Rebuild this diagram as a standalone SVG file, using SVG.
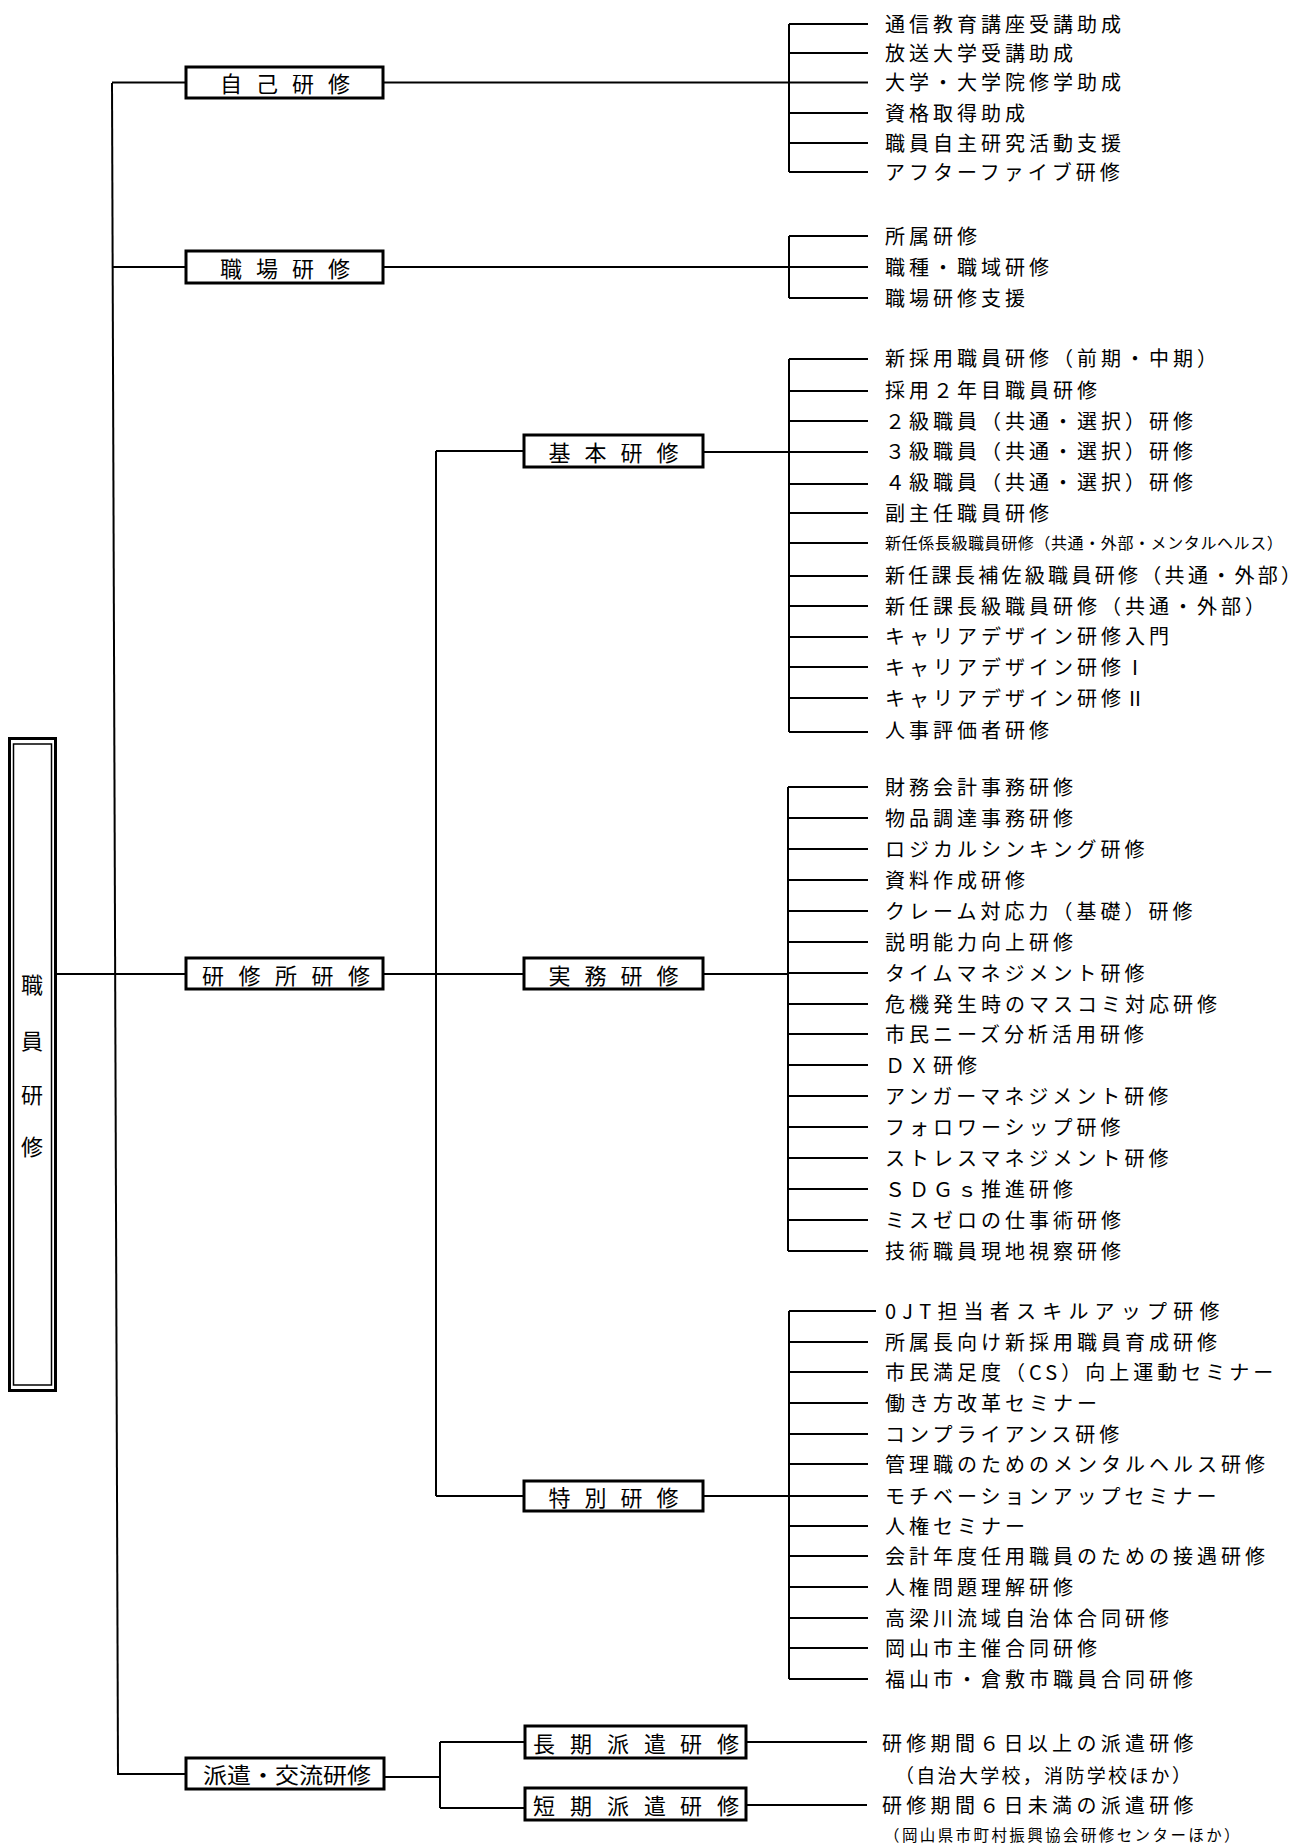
<svg xmlns="http://www.w3.org/2000/svg" width="1308" height="1845" viewBox="0 0 1308 1845">
<style>
text{font-family:"Noto Sans CJK JP","Noto Sans CJK SC",sans-serif;fill:#000;dominant-baseline:central}
.t{font-size:20px;letter-spacing:4px}
.s{font-size:16px;letter-spacing:0.6px}
.b{font-size:22px}
.box{fill:#fff;stroke:#000;stroke-width:3}
.ln{stroke:#000;stroke-width:2;fill:none}
</style>
<rect width="1308" height="1845" fill="#fff"/>
<g id="connectors" class="ln">
<line x1="112" y1="83" x2="118" y2="1775"/>
<line x1="112" y1="82.5" x2="186" y2="82.5"/>
<line x1="113" y1="267" x2="186" y2="267"/>
<line x1="56" y1="974" x2="186" y2="974"/>
<line x1="118" y1="1774" x2="186" y2="1774"/>
<line x1="383" y1="82.5" x2="789" y2="82.5"/>
<line x1="789" y1="24" x2="789" y2="172"/>
<line x1="789" y1="24" x2="868" y2="24"/>
<line x1="789" y1="53" x2="868" y2="53"/>
<line x1="789" y1="82.5" x2="868" y2="82.5"/>
<line x1="789" y1="113" x2="868" y2="113"/>
<line x1="789" y1="143" x2="868" y2="143"/>
<line x1="789" y1="172" x2="868" y2="172"/>
<line x1="383" y1="267" x2="789" y2="267"/>
<line x1="789" y1="236" x2="789" y2="298"/>
<line x1="789" y1="236" x2="868" y2="236"/>
<line x1="789" y1="267" x2="868" y2="267"/>
<line x1="789" y1="298" x2="868" y2="298"/>
<line x1="383" y1="974" x2="525" y2="974"/>
<line x1="436" y1="451" x2="436" y2="1496"/>
<line x1="436" y1="451" x2="524" y2="451"/>
<line x1="436" y1="1496" x2="525" y2="1496"/>
<line x1="703" y1="452" x2="789" y2="452"/>
<line x1="789" y1="359" x2="789" y2="732"/>
<line x1="789" y1="359" x2="868" y2="359"/>
<line x1="789" y1="391" x2="868" y2="391"/>
<line x1="789" y1="421" x2="868" y2="421"/>
<line x1="789" y1="452" x2="868" y2="452"/>
<line x1="789" y1="484" x2="868" y2="484"/>
<line x1="789" y1="513" x2="868" y2="513"/>
<line x1="789" y1="543" x2="868" y2="543"/>
<line x1="789" y1="576" x2="868" y2="576"/>
<line x1="789" y1="606" x2="868" y2="606"/>
<line x1="789" y1="637" x2="868" y2="637"/>
<line x1="789" y1="667" x2="868" y2="667"/>
<line x1="789" y1="698" x2="868" y2="698"/>
<line x1="789" y1="732" x2="868" y2="732"/>
<line x1="703" y1="974" x2="788" y2="974"/>
<line x1="788" y1="787" x2="788" y2="1251"/>
<line x1="788" y1="787" x2="868" y2="787"/>
<line x1="788" y1="818" x2="868" y2="818"/>
<line x1="788" y1="849" x2="868" y2="849"/>
<line x1="788" y1="880" x2="868" y2="880"/>
<line x1="788" y1="911" x2="868" y2="911"/>
<line x1="788" y1="942" x2="868" y2="942"/>
<line x1="788" y1="973" x2="868" y2="973"/>
<line x1="788" y1="1004" x2="868" y2="1004"/>
<line x1="788" y1="1034" x2="868" y2="1034"/>
<line x1="788" y1="1065" x2="868" y2="1065"/>
<line x1="788" y1="1096" x2="868" y2="1096"/>
<line x1="788" y1="1127" x2="868" y2="1127"/>
<line x1="788" y1="1158" x2="868" y2="1158"/>
<line x1="788" y1="1189" x2="868" y2="1189"/>
<line x1="788" y1="1220" x2="868" y2="1220"/>
<line x1="788" y1="1251" x2="868" y2="1251"/>
<line x1="703" y1="1496" x2="789" y2="1496"/>
<line x1="789" y1="1311" x2="789" y2="1679"/>
<line x1="789" y1="1311" x2="876" y2="1311"/>
<line x1="789" y1="1342" x2="868" y2="1342"/>
<line x1="789" y1="1372" x2="868" y2="1372"/>
<line x1="789" y1="1403" x2="868" y2="1403"/>
<line x1="789" y1="1434" x2="868" y2="1434"/>
<line x1="789" y1="1464" x2="868" y2="1464"/>
<line x1="789" y1="1496" x2="868" y2="1496"/>
<line x1="789" y1="1526" x2="868" y2="1526"/>
<line x1="789" y1="1556" x2="868" y2="1556"/>
<line x1="789" y1="1587" x2="868" y2="1587"/>
<line x1="789" y1="1618" x2="868" y2="1618"/>
<line x1="789" y1="1648" x2="868" y2="1648"/>
<line x1="789" y1="1679" x2="868" y2="1679"/>
<line x1="384" y1="1777" x2="440" y2="1777"/>
<line x1="440" y1="1742" x2="440" y2="1808"/>
<line x1="440" y1="1742" x2="525" y2="1742"/>
<line x1="440" y1="1808" x2="525" y2="1808"/>
<line x1="746" y1="1742" x2="867" y2="1742"/>
<line x1="746" y1="1805" x2="867" y2="1805"/>
</g>

<g id="node-root">
<rect x="9.5" y="738.5" width="46" height="652" fill="#fff" stroke="#000" stroke-width="3"/>
<rect x="13.5" y="744" width="38" height="641" fill="none" stroke="#000" stroke-width="1.5"/>
<text class="b" x="32" y="983" text-anchor="middle">職</text>
<text class="b" x="32" y="1039" text-anchor="middle">員</text>
<text class="b" x="32" y="1093" text-anchor="middle">研</text>
<text class="b" x="32" y="1145" text-anchor="middle">修</text>
</g>

<g id="node-jiko">
<rect class="box" x="186" y="67" width="197" height="31"/>
<text class="b" x="220 242 256 278 292 314 328" y="82">自 己 研 修</text>
</g>
<g id="node-shokuba">
<rect class="box" x="186" y="251" width="197" height="32"/>
<text class="b" x="220 242 256 278 292 314 328" y="267">職 場 研 修</text>
</g>
<g id="node-kenshujo">
<rect class="box" x="186" y="958" width="197" height="31"/>
<text class="b" x="202 224 238.5 260.5 275 297 311.5 333.5 348" y="974">研 修 所 研 修</text>
</g>
<g id="node-haken">
<rect class="box" x="186" y="1758" width="198" height="31"/>
<text class="b" x="203" y="1773" textLength="168" lengthAdjust="spacingAndGlyphs">派遣・交流研修</text>
</g>

<g id="node-kihon">
<rect class="box" x="524" y="435" width="179" height="32"/>
<text class="b" x="548.5 570.5 584.5 606.5 620.5 642.5 656.5" y="451">基 本 研 修</text>
</g>
<g id="node-jitsumu">
<rect class="box" x="524" y="958" width="179" height="31"/>
<text class="b" x="548.5 570.5 584.5 606.5 620.5 642.5 656.5" y="974">実 務 研 修</text>
</g>
<g id="node-tokubetsu">
<rect class="box" x="524" y="1481" width="179" height="30"/>
<text class="b" x="548.5 570.5 584.5 606.5 620.5 642.5 656.5" y="1496">特 別 研 修</text>
</g>
<g id="node-choki">
<rect class="box" x="525" y="1726" width="221" height="32"/>
<text class="b" x="533 555 570 592 607 629 644 666 680 702 717" y="1742">長 期 派 遣 研 修</text>
</g>
<g id="node-tanki">
<rect class="box" x="525" y="1788" width="221" height="32"/>
<text class="b" x="533 555 570 592 607 629 644 666 680 702 717" y="1804">短 期 派 遣 研 修</text>
</g>

<g id="leaves-jiko">
<g id="l-jiko-1"><text class="t" x="885" y="23">通信教育講座受講助成</text></g>
<g id="l-jiko-2"><text class="t" x="885" y="52">放送大学受講助成</text></g>
<g id="l-jiko-3"><text class="t" x="885" y="81.5">大学・大学院修学助成</text></g>
<g id="l-jiko-4"><text class="t" x="885" y="112">資格取得助成</text></g>
<g id="l-jiko-5"><text class="t" x="885" y="142">職員自主研究活動支援</text></g>
<g id="l-jiko-6"><text class="t" x="885" y="171">アフターファイブ研修</text></g>
</g>
<g id="leaves-shokuba">
<g id="l-shokuba-1"><text class="t" x="885" y="235">所属研修</text></g>
<g id="l-shokuba-2"><text class="t" x="885" y="266">職種・職域研修</text></g>
<g id="l-shokuba-3"><text class="t" x="885" y="297">職場研修支援</text></g>
</g>
<g id="leaves-kihon">
<g id="l-kihon-1"><text class="t" x="885" y="357">新採用職員研修（前期・中期）</text></g>
<g id="l-kihon-2"><text class="t" x="885" y="389">採用２年目職員研修</text></g>
<g id="l-kihon-3"><text class="t" x="885" y="420">２級職員（共通・選択）研修</text></g>
<g id="l-kihon-4"><text class="t" x="885" y="450">３級職員（共通・選択）研修</text></g>
<g id="l-kihon-5"><text class="t" x="885" y="481">４級職員（共通・選択）研修</text></g>
<g id="l-kihon-6"><text class="t" x="885" y="512">副主任職員研修</text></g>
<g id="l-kihon-7"><text class="s" x="885" y="542">新任係長級職員研修（共通・外部・メンタルヘルス）</text></g>
<g id="l-kihon-8"><text class="t" x="885" y="574" style="letter-spacing:3.3px">新任課長補佐級職員研修（共通・外部）</text></g>
<g id="l-kihon-9"><text class="t" x="885" y="605">新任課長級職員研修（共通・外部）</text></g>
<g id="l-kihon-10"><text class="t" x="885" y="635">キャリアデザイン研修入門</text></g>
<g id="l-kihon-11"><text class="t" x="885" y="666">キャリアデザイン研修Ⅰ</text></g>
<g id="l-kihon-12"><text class="t" x="885" y="697">キャリアデザイン研修Ⅱ</text></g>
<g id="l-kihon-13"><text class="t" x="885" y="729">人事評価者研修</text></g>
</g>
<g id="leaves-jitsumu">
<g id="l-jitsumu-1"><text class="t" x="885" y="786">財務会計事務研修</text></g>
<g id="l-jitsumu-2"><text class="t" x="885" y="817">物品調達事務研修</text></g>
<g id="l-jitsumu-3"><text class="t" x="885" y="848">ロジカルシンキング研修</text></g>
<g id="l-jitsumu-4"><text class="t" x="885" y="879">資料作成研修</text></g>
<g id="l-jitsumu-5"><text class="t" x="885" y="910">クレーム対応力（基礎）研修</text></g>
<g id="l-jitsumu-6"><text class="t" x="885" y="941">説明能力向上研修</text></g>
<g id="l-jitsumu-7"><text class="t" x="885" y="972">タイムマネジメント研修</text></g>
<g id="l-jitsumu-8"><text class="t" x="885" y="1003">危機発生時のマスコミ対応研修</text></g>
<g id="l-jitsumu-9"><text class="t" x="885" y="1033">市民ニーズ分析活用研修</text></g>
<g id="l-jitsumu-10"><text class="t" x="885" y="1064">ＤＸ研修</text></g>
<g id="l-jitsumu-11"><text class="t" x="885" y="1095">アンガーマネジメント研修</text></g>
<g id="l-jitsumu-12"><text class="t" x="885" y="1126">フォロワーシップ研修</text></g>
<g id="l-jitsumu-13"><text class="t" x="885" y="1157">ストレスマネジメント研修</text></g>
<g id="l-jitsumu-14"><text class="t" x="885" y="1188">ＳＤＧｓ推進研修</text></g>
<g id="l-jitsumu-15"><text class="t" x="885" y="1219">ミスゼロの仕事術研修</text></g>
<g id="l-jitsumu-16"><text class="t" x="885" y="1250">技術職員現地視察研修</text></g>
</g>
<g id="leaves-tokubetsu">
<g id="l-toku-1"><text class="t" x="885" y="1310" style="letter-spacing:6.2px">0JT担当者スキルアップ研修</text></g>
<g id="l-toku-2"><text class="t" x="885" y="1341">所属長向け新採用職員育成研修</text></g>
<g id="l-toku-3"><text class="t" x="885" y="1371">市民満足度（CS）向上運動セミナー</text></g>
<g id="l-toku-4"><text class="t" x="885" y="1402">働き方改革セミナー</text></g>
<g id="l-toku-5"><text class="t" x="885" y="1433">コンプライアンス研修</text></g>
<g id="l-toku-6"><text class="t" x="885" y="1463">管理職のためのメンタルヘルス研修</text></g>
<g id="l-toku-7"><text class="t" x="885" y="1495">モチベーションアップセミナー</text></g>
<g id="l-toku-8"><text class="t" x="885" y="1525">人権セミナー</text></g>
<g id="l-toku-9"><text class="t" x="885" y="1555">会計年度任用職員のための接遇研修</text></g>
<g id="l-toku-10"><text class="t" x="885" y="1586">人権問題理解研修</text></g>
<g id="l-toku-11"><text class="t" x="885" y="1617">高梁川流域自治体合同研修</text></g>
<g id="l-toku-12"><text class="t" x="885" y="1647">岡山市主催合同研修</text></g>
<g id="l-toku-13"><text class="t" x="885" y="1678">福山市・倉敷市職員合同研修</text></g>
</g>
<g id="leaves-haken">
<g id="l-haken-1"><text class="t" x="882" y="1742" style="letter-spacing:4.3px">研修期間６日以上の派遣研修</text><text class="t" x="895" y="1774" style="font-size:19px;letter-spacing:2.3px">（自治大学校，消防学校ほか）</text></g>
<g id="l-haken-2"><text class="t" x="882" y="1804" style="letter-spacing:4.3px">研修期間６日未満の派遣研修</text><text x="884" y="1834" style="font-size:15.5px;letter-spacing:2.4px">（岡山県市町村振興協会研修センターほか）</text></g>
</g>
</svg>
